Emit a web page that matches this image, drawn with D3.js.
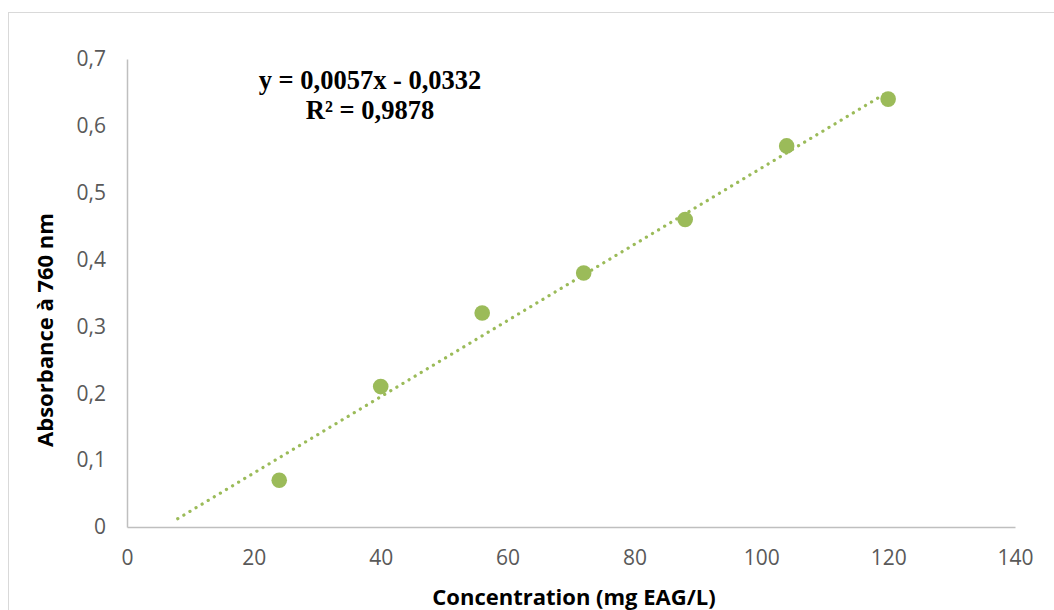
<!DOCTYPE html>
<html>
<head>
<meta charset="utf-8">
<script src="https://cdn.jsdelivr.net/npm/d3@7"></script>
<style>
  body { margin: 0; background: #fff; }
  svg { display: block; }
</style>
</head>
<body>
<svg id="chart" width="1054" height="610"></svg>
<script>
// data
const concentrations = [24, 40, 56, 72, 88, 104, 120];
const absorbances = [0.07, 0.21, 0.32, 0.38, 0.46, 0.57, 0.64];
const xTicks = [0, 20, 40, 60, 80, 100, 120, 140];
const yTicks = [0, 0.1, 0.2, 0.3, 0.4, 0.5, 0.6, 0.7];
const trendSlope = 0.0057;
const trendIntercept = -0.0332;
const trendRange = [8, 120];
const equationLines = ["y = 0,0057x - 0,0332", "R² = 0,9878"];

const svg = d3.select("#chart");
const margins = { left: 127, right: 1015, top: 59, bottom: 527 };
const pointColor = "#9bbb59";
const axisColor = "#bfbfbf";
const tickColor = "#595959";
const fontFamily = "'Open Sans', Lato, sans-serif";

// chart area border (runs off the right and bottom of the picture)
svg.append("rect")
    .attr("x", 8.5).attr("y", 12.5)
    .attr("width", 1100).attr("height", 700)
    .attr("fill", "none")
    .attr("stroke", "#d9d9d9")
    .attr("stroke-width", 1);

const xScale = d3.scaleLinear().domain([0, 140]).range([margins.left, margins.right]);
const yScale = d3.scaleLinear().domain([0, 0.7]).range([margins.bottom, margins.top]);
const fmt = (d) => d3.format(".1~f")(d).replace(".", ",");

// x axis
const gx = svg.append("g")
    .attr("class", "x-axis")
    .attr("transform", `translate(0,${margins.bottom})`)
    .call(d3.axisBottom(xScale).tickValues(xTicks).tickSize(0).tickPadding(23).tickFormat(d3.format("d")));
gx.select(".domain").attr("stroke", axisColor).attr("stroke-width", 1.5);
gx.selectAll("text")
    .attr("font-size", 21)
    .attr("font-family", fontFamily)
    .attr("fill", tickColor);

// y axis
const gy = svg.append("g")
    .attr("class", "y-axis")
    .attr("transform", `translate(${margins.left},0)`)
    .call(d3.axisLeft(yScale).tickValues(yTicks).tickSize(0).tickPadding(21).tickFormat(fmt));
gy.select(".domain").attr("stroke", axisColor).attr("stroke-width", 1.5);
gy.selectAll("text")
    .attr("font-size", 21)
    .attr("font-family", fontFamily)
    .attr("fill", tickColor);

// trendline (dotted)
const trendLine = d3.line()
    .x((d) => xScale(d))
    .y((d) => yScale(trendSlope * d + trendIntercept));
svg.append("path")
    .datum(trendRange)
    .attr("d", trendLine)
    .attr("fill", "none")
    .attr("stroke", pointColor)
    .attr("stroke-width", 3.2)
    .attr("stroke-linecap", "round")
    .attr("stroke-dasharray", "0.1 7");

// points
svg.append("g")
    .attr("class", "points")
    .attr("fill", pointColor)
    .selectAll("circle")
    .data(concentrations.map((c, i) => [c, absorbances[i]]))
    .join("circle")
    .attr("cx", (d) => xScale(d[0]))
    .attr("cy", (d) => yScale(d[1]))
    .attr("r", 7.8);

// equation label
svg.append("g")
    .selectAll("text")
    .data(equationLines)
    .join("text")
    .attr("x", 370)
    .attr("y", (d, i) => 89 + i * 30)
    .attr("text-anchor", "middle")
    .attr("font-family", "'Liberation Serif', 'Times New Roman', serif")
    .attr("font-weight", "bold")
    .attr("font-size", 26.5)
    .attr("fill", "#000")
    .text((d) => d);

// axis titles
svg.append("text")
    .attr("x", 574)
    .attr("y", 605)
    .attr("text-anchor", "middle")
    .attr("font-family", fontFamily)
    .attr("font-weight", "bold")
    .attr("font-size", 22)
    .attr("fill", "#000")
    .text("Concentration (mg EAG/L)");

svg.append("text")
    .attr("transform", "translate(53,330) rotate(-90)")
    .attr("text-anchor", "middle")
    .attr("font-family", fontFamily)
    .attr("font-weight", "bold")
    .attr("font-size", 22)
    .attr("fill", "#000")
    .text("Absorbance à 760 nm");
</script>
</body>
</html>
